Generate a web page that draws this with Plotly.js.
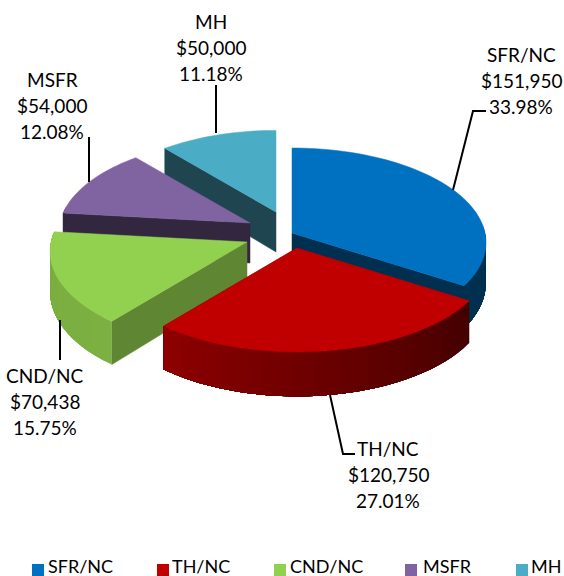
<!DOCTYPE html>
<html><head><meta charset="utf-8">
<script src="https://cdn.plot.ly/plotly-3.0.1.min.js"></script>
<style>html,body{margin:0;padding:0;background:#fff}#c{width:564px;height:576px}</style>
</head><body><div id="c"></div>
<script>
// ---- data ----
const categories = ['SFR/NC','TH/NC','CND/NC','MSFR','MH'];
const amounts = [151950,120750,70438,54000,50000];
// ---- styles ----
const topColors = ['#0070C0','#C00000','#92D050','#8064A2','#4BACC6'];
const wallColors = ['#002F50','#8B0000','#5F8632','#33263F','#1F4650'];
const rimFrom = ['#00304F','#430000','#7DB042','#33263F','#1F4650'];
const rimTo = ['#00304F','#8E0000','#78AD3E','#33263F','#1F4650'];
// ---- projection of the tilted pie onto the axes ----
const apexX = [292,297,247,250,276];
const apexY = [233,248,242,223,212];
const sliceScale = [1,1,1.015,0.985,0.96];
const RX = 193, RY = 93.5, PERSP = 0.1, DEPTH = 40;
const drawOrder = [4,3,2,0,1];
// ---- label and leader placement ----
const labelX = [521,388,45,52,211];
const labelY = [80,474,401,105,47];
const lineGap = 26;
const leaderX = [[453,473,486],[330,343,355],[60,60],[89,89],[216,216]];
const leaderY = [[190,111,111],[395,454,454],[320,360],[182,137],[133,85]];
const legendX = [38,163,280,411,522];
const legendTextX = [48,172,290,423,531];
const legendY = 570;
const legendTextY = 568.5;

const total = amounts.reduce((a,b)=>a+b,0);
const edges = [0];
amounts.forEach(v=>edges.push(edges[edges.length-1]+v/total*360));
const rad = d=>d*Math.PI/180;
function pt(i,t,drop){
  const c=Math.cos(rad(t)), s=Math.sin(rad(t)), p=1/(1+PERSP*c), k=sliceScale[i];
  return [apexX[i]+RX*s*p*k, apexY[i]-RY*c*p*k+(drop?DEPTH*p:0)];
}
function hex(c){return [1,3,5].map(j=>parseInt(c.substr(j,2),16));}
function mix(a,b,f){const A=hex(a),B=hex(b);return 'rgb('+A.map((v,j)=>Math.round(v+(B[j]-v)*f)).join(',')+')';}
function poly(pts,color,w){
  const xs=pts.map(p=>p[0]),ys=pts.map(p=>p[1]);
  xs.push(xs[0]);ys.push(ys[0]);
  return {type:'scatter',mode:'lines',x:xs,y:ys,fill:'toself',fillcolor:color,
    line:{color:color,width:w===undefined?0.5:w,simplify:false},hoverinfo:'skip',showlegend:false};
}
const traces=[];
drawOrder.forEach(i=>{
  const a=edges[i], b=edges[i+1];
  const wallT = a>=180 ? a : b;
  traces.push(poly([[apexX[i],apexY[i]],pt(i,wallT,false),pt(i,wallT,true),[apexX[i],apexY[i]+DEPTH]],wallColors[i]));
  // outer rim: each band runs to the slice's far end and the next one paints over it, so no seams show
  const lo=Math.max(a,85), hi=Math.min(b,280);
  if(hi>lo){
    const n=Math.ceil((hi-lo)/3);
    for(let j=0;j<n;j++){
      const t1=lo+(hi-lo)*j/n;
      const strip=[];
      const steps=Math.max(2,n-j);
      for(let q=0;q<=steps;q++) strip.push(pt(i,t1+(hi-t1)*q/steps,false));
      for(let q=steps;q>=0;q--) strip.push(pt(i,t1+(hi-t1)*q/steps,true));
      traces.push(poly(strip,mix(rimFrom[i],rimTo[i],(j+.5)/n),0));
    }
  }
  const face=[[apexX[i],apexY[i]]];
  const m=Math.ceil((b-a)/2);
  for(let j=0;j<=m;j++) face.push(pt(i,a+(b-a)*j/m,false));
  traces.push(poly(face,topColors[i]));
});
categories.forEach((c,i)=>{
  traces.push({type:'scatter',mode:'lines',x:leaderX[i],y:leaderY[i],line:{color:'#000',width:2},hoverinfo:'skip',showlegend:false});
});
traces.push({type:'scatter',mode:'markers',x:legendX,y:categories.map(()=>legendY),cliponaxis:false,
  marker:{symbol:'square',size:12,color:topColors},hoverinfo:'skip',showlegend:false});
traces.push({type:'scatter',mode:'text',x:legendTextX,y:categories.map(()=>legendTextY),cliponaxis:false,
  text:categories,textposition:'middle right',textfont:{family:'Lato',size:18,color:'#000'},
  hoverinfo:'skip',showlegend:false});

const annotations=[];
categories.forEach((c,i)=>{
  const lines=[c,'$'+amounts[i].toLocaleString('en-US'),(amounts[i]/total*100).toFixed(2)+'%'];
  lines.forEach((s,j)=>annotations.push({xref:'x',yref:'y',x:labelX[i],y:labelY[i]+(j-1)*lineGap,
    showarrow:false,xanchor:'center',yanchor:'middle',align:'center',text:s,
    font:{family:'Lato',size:19,color:'#000'}}));
});
const layout={width:564,height:576,margin:{l:0,r:0,t:0,b:0},paper_bgcolor:'#fff',plot_bgcolor:'#fff',
  showlegend:false,annotations,
  xaxis:{range:[0,564],visible:false,fixedrange:true},
  yaxis:{range:[576,0],visible:false,fixedrange:true}};
Plotly.newPlot('c',traces,layout,{staticPlot:true,displayModeBar:false});
</script></body></html>
